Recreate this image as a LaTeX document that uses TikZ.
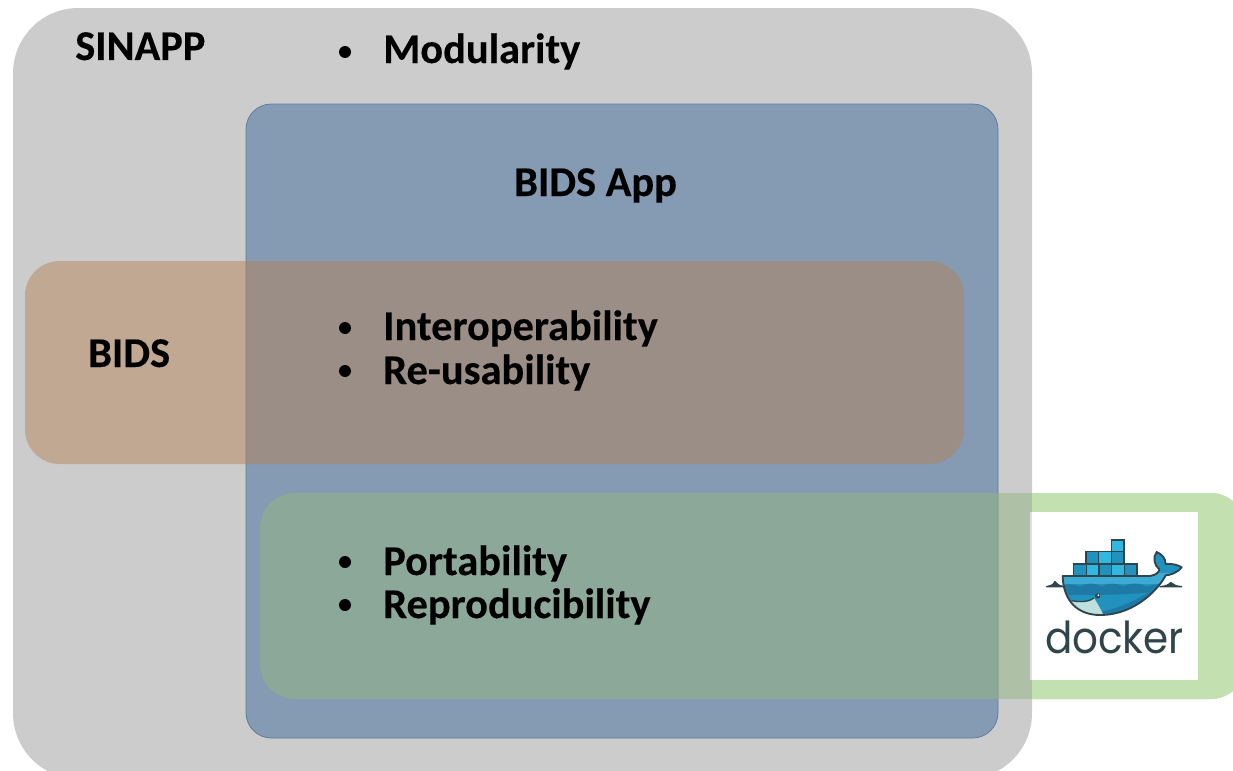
\documentclass[tikz,border=0pt]{standalone}
\usepackage{fontspec}
\setmainfont{Carlito}[BoldFont=Carlito Bold,BoldFeatures={FakeBold=0.25}]
\newfontfamily\dockerfont{Poppins}
\definecolor{grayregion}{RGB}{204,204,204}
\definecolor{blueregion}{RGB}{133,154,179}
\definecolor{blueedge}{RGB}{95,125,160}
\definecolor{orangeregion}{RGB}{180,130,85}
\definecolor{greenregion}{RGB}{145,182,127}
\definecolor{greensolid}{RGB}{195,225,176}
\definecolor{sliver}{RGB}{222,222,222}
\definecolor{dockdark}{RGB}{48,68,75}
\definecolor{dockblue}{RGB}{33,146,190}
\definecolor{docklight}{RGB}{48,184,224}
\definecolor{dockdeep}{RGB}{30,122,165}
\definecolor{dockband}{RGB}{60,170,210}
\definecolor{dockbelly}{RGB}{190,225,222}
\tikzset{
  x=0.75pt,y=-0.75pt,
  region/.style={inner sep=0pt,outer sep=0pt,anchor=north west},
  label/.style={font=\bfseries\fontsize{31.8}{36}\selectfont,anchor=base west,inner sep=0pt,text=black},
  bulletdot/.style={circle,fill=black,minimum size=9pt,inner sep=0pt},
  container/.style={draw=dockdark,line width=1.1pt,fill=dockblue},
  containerlit/.style={container,fill=docklight},
  greenshape/.style={region,rounded corners=26pt,minimum width=739pt,minimum height=154.5pt},
}
\begin{document}
\begin{tikzpicture}
\useasboundingbox (0,0) rectangle (1233,771);
\clip (0,0) rectangle (1233,771);
\node[region,fill=grayregion,rounded corners=49pt,minimum width=764.25pt,minimum height=578pt] (sinapp) at (13,8) {};
\node[region,fill=blueregion,draw=blueedge,line width=0.6pt,rounded corners=19pt,minimum width=564pt,minimum height=475.5pt] (bidsapp) at (246,104) {};
\node[region,fill=orangeregion,fill opacity=0.48,rounded corners=26pt,minimum width=704.25pt,minimum height=152.25pt] (bids) at (25,261) {};
\node[greenshape,fill=greenregion,fill opacity=0.5] (green) at (260,493) {};
\begin{scope}
 \clip (1032,480) rectangle (1233,710);
 \node[greenshape,fill=greensolid] (greenright) at (260,493) {};
\end{scope}
\node[region,fill=sliver,minimum width=1.5pt,minimum height=126pt] (dockeredge) at (1030,512) {};
\node[region,fill=white,minimum width=124.5pt,minimum height=126pt] (dockerbox) at (1032,512) {};
% docker logo, in units of the 3x crop at (1000,480)
\begin{scope}[shift={(1000,480)},x=0.25pt,y=-0.25pt]
 \foreach \xa/\ya/\st in {334/180/containerlit,
   258/215/container,296/215/containerlit,334/215/container,
   221/252/container,259/252/containerlit,297/252/container,335/252/containerlit,373/252/container}
   {\path[\st] (\xa,\ya) rectangle ++(38,37);}
 \def\whalepath{(188,288) -- (450,288) .. controls (470,285) and (478,275) .. (478,268) .. controls (462,255) and (458,232) .. (470,216) .. controls (485,222) and (497,235) .. (497,252) .. controls (515,250) and (535,255) .. (545,262) .. controls (530,280) and (510,285) .. (497,286) .. controls (480,320) and (410,405) .. (300,405) .. controls (235,405) and (190,365) .. (188,288) -- cycle}
 \begin{scope}
  \clip \whalepath;
  \fill[dockblue] (130,200) rectangle (560,420);
  \fill[dockband] (180,280) rectangle (560,312);
  \fill[dockdeep] (180,318) .. controls (205,310) and (225,312) .. (240,320) .. controls (260,308) and (285,308) .. (305,320) .. controls (325,308) and (350,308) .. (370,320) .. controls (390,308) and (420,308) .. (440,320) .. controls (450,316) and (470,312) .. (490,312) -- (490,330) .. controls (420,345) and (300,345) .. (180,345) -- cycle;
  \fill[dockdeep] (245,405) .. controls (340,395) and (430,360) .. (490,300) -- (520,420) -- (245,420) -- cycle;
  \fill[dockbelly] (215,362) .. controls (245,368) and (270,364) .. (282,354) .. controls (295,375) and (305,392) .. (312,410) -- (215,410) -- cycle;
 \end{scope}
 \draw[dockdark,line width=1.4pt,line join=round] \whalepath;
 \draw[dockdark,line width=1.1pt,line join=round,fill=dockdark] (140,320) .. controls (150,319) and (160,316) .. (165,305) .. controls (172,314) and (180,319) .. (190,320) -- cycle;
 \draw[dockdark,line width=1.1pt,line join=round,fill=dockdark] (480,320) .. controls (495,319) and (505,316) .. (512,308) .. controls (520,316) and (530,319) .. (545,320) -- cycle;
 \fill[dockdark] (293,348) circle (8);
 \fill[white] (295,346) circle (3);
 \draw[dockdark,line width=1pt] (215,362) .. controls (245,368) and (270,364) .. (282,354);
\end{scope}
\node[inner sep=0pt,anchor=base,text=dockdark,font=\dockerfont\fontsize{33}{33}\selectfont] (dockerword) at (1114.5,653) {\scalebox{0.92}[1]{docker}};
\node[label] (tsinapp) at (75,60) {SINAPP};
\node[label] (tbidsapp) at (514,196) {BIDS App};
\node[label] (tbids) at (88,367) {BIDS};
\node[label] (tmod) at (383,63) {Modularity};
\node[label] (tinter) at (383,340) {Interoperability};
\node[label] (treuse) at (383,384) {Re-usability};
\node[label] (tport) at (383,575) {Portability};
\node[label] (trepro) at (383,618) {Reproducibility};
\foreach \nm/\yy in {bm/52,bi/328,br/371,bp/562,brp/605}
  \node[bulletdot] (\nm) at (345,\yy) {};
\end{tikzpicture}
\end{document}
